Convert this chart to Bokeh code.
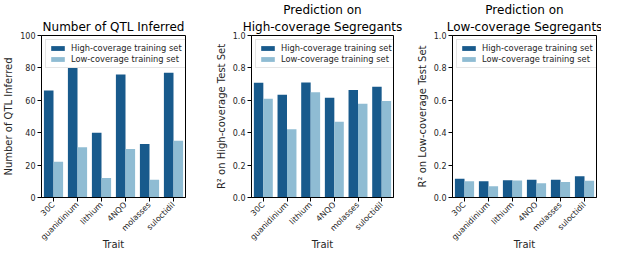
import math
from bokeh.plotting import figure
from bokeh.layouts import row
from bokeh.models import (ColumnDataSource, FactorRange, Range1d, Title, Legend,
                          LegendItem, FixedTicker, NumeralTickFormatter)
from bokeh.transform import dodge
from bokeh.embed import file_html
from bokeh.resources import INLINE

# ---- data ----
traits = ["30C", "guanidinium", "lithium", "4NQO", "molasses", "suloctidil"]
qtl_high = [66, 80, 40, 76, 33, 77]
qtl_low = [22, 31, 12, 30, 11, 35]
r2_high_test_high_train = [0.708, 0.635, 0.710, 0.615, 0.663, 0.684]
r2_high_test_low_train = [0.610, 0.422, 0.649, 0.467, 0.578, 0.596]
r2_low_test_high_train = [0.115, 0.101, 0.106, 0.110, 0.110, 0.131]
r2_low_test_low_train = [0.101, 0.069, 0.105, 0.088, 0.095, 0.103]
qtl_ticks = [0, 20, 40, 60, 80, 100]
r2_ticks = [0.0, 0.2, 0.4, 0.6, 0.8, 1.0]

DARK = "#185a8c"
LIGHT = "#8fbcd3"
FONT = "DejaVu Sans"
TXT = "#262626"


def panel(title_lines, ylabel, high, low, ymax, ticks, fmt, width, bl, br):
    src = ColumnDataSource(dict(trait=traits, high=high, low=low))
    p = figure(x_range=FactorRange(*traits), y_range=Range1d(0, ymax),
               width=width, height=253, output_backend="svg",
               toolbar_location=None, min_border_left=bl, min_border_right=br,
               min_border_top=28, min_border_bottom=0)
    r1 = p.vbar(x=dodge("trait", -0.2, range=p.x_range), top="high", width=0.4,
                source=src, fill_color=DARK, line_color=None)
    r2 = p.vbar(x=dodge("trait", 0.2, range=p.x_range), top="low", width=0.4,
                source=src, fill_color=LIGHT, line_color=None)

    p.title.text = title_lines[0]
    p.title.align = "center"
    p.title.text_font = FONT
    p.title.text_font_size = "12px"
    p.title.text_font_style = "normal"
    p.title.text_color = "black"
    p.title.standoff = 0 if len(title_lines) > 1 else 3
    for line in title_lines[1:]:
        p.add_layout(Title(text=line, align="center", text_font=FONT,
                           text_font_size="12px", text_font_style="normal",
                           text_color="black", standoff=3), "above")

    p.xgrid.visible = False
    p.ygrid.visible = False
    p.outline_line_color = "black"
    p.outline_line_width = 1
    p.outline_line_alpha = 1

    for ax in (p.xaxis[0], p.yaxis[0]):
        ax.axis_line_color = "black"
        ax.major_tick_line_color = "black"
        ax.major_tick_out = 4
        ax.major_tick_in = 0
        ax.minor_tick_line_color = None
        ax.major_label_text_font = FONT
        ax.major_label_text_font_size = "8px"
        ax.major_label_text_color = TXT
        ax.major_label_standoff = 2
        ax.axis_label_text_font = FONT
        ax.axis_label_text_font_size = "10px"
        ax.axis_label_text_font_style = "normal"
        ax.axis_label_text_color = TXT
        ax.axis_label_standoff = 3

    xa = p.xaxis[0]
    xa.axis_label = "Trait"
    xa.major_label_orientation = math.pi / 4
    xa.axis_label_standoff = -9

    p.yaxis[0].axis_label = ylabel
    p.yaxis[0].ticker = FixedTicker(ticks=ticks)
    p.yaxis[0].formatter = NumeralTickFormatter(format=fmt)
    p.x_range.range_padding = 0

    legend = Legend(items=[LegendItem(label="High-coverage training set", renderers=[r1]),
                           LegendItem(label="Low-coverage training set", renderers=[r2])],
                    location="top_left")
    legend.margin = 4
    legend.padding = 3
    legend.spacing = 1
    legend.glyph_width = 17
    legend.glyph_height = 6
    legend.label_height = 9
    legend.label_standoff = 5
    legend.label_text_font = FONT
    legend.label_text_font_size = "8.3px"
    legend.label_text_color = TXT
    legend.border_line_color = "#cccccc"
    legend.border_line_width = 1
    legend.background_fill_alpha = 0.8
    p.add_layout(legend)
    return p


p1 = panel(["Number of QTL Inferred"], "Number of QTL Inferred", qtl_high, qtl_low,
           100, qtl_ticks, "0", 212, 37, 27)
p2 = panel(["Prediction on", "High-coverage Segregants"], "R\u00b2 on High-coverage Test Set",
           r2_high_test_high_train, r2_high_test_low_train, 1.0, r2_ticks, "0.0", 201, 33, 20)
p3 = panel(["Prediction on", "Low-coverage Segregants"], "R\u00b2 on Low-coverage Test Set",
           r2_low_test_high_train, r2_low_test_low_train, 1.0, r2_ticks, "0.0", 188, 33, 5)

layout = row(p1, p2, p3)
open("out.html", "w").write(file_html(layout, INLINE))
